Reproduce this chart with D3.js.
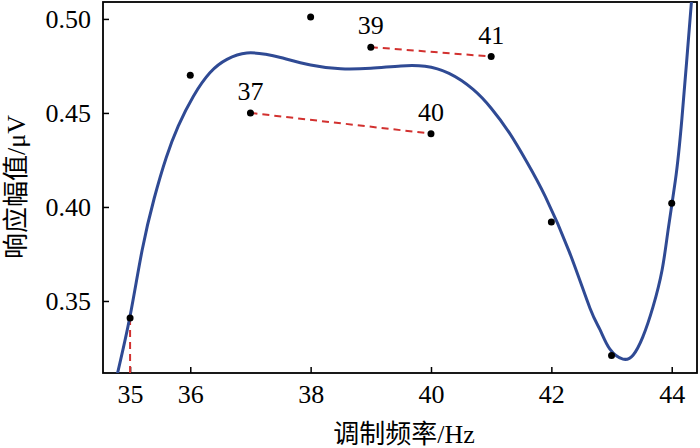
<!DOCTYPE html>
<html>
<head>
<meta charset="utf-8">
<script src="https://cdn.jsdelivr.net/npm/d3@7"></script>
<style>
  body { margin: 0; background: #fff; }
  svg text { font-family: "Liberation Serif", "Times New Roman", "Noto Sans CJK SC", serif !important; }
</style>
</head>
<body>
<svg id="chart" width="700" height="448"></svg>
<script>
// measured points
let freq = [35, 36, 37, 38, 39, 40, 41, 42, 43, 44]
let amp = [0.341, 0.470, 0.450, 0.501, 0.485, 0.439, 0.480, 0.392, 0.321, 0.402]

// fitted curve
let fitX = [34.78, 35.0, 35.2, 35.4, 35.6, 35.8, 36.05, 36.33, 36.61, 36.94, 37.25, 37.5, 38.0, 38.5, 39.0, 39.5, 39.9, 40.3, 40.7, 41.0, 41.3, 41.6, 41.9, 42.3, 42.64, 42.81, 42.97, 43.19, 43.36, 43.52, 43.69, 43.84, 43.94, 44.06, 44.17, 44.33, 44.38]
let fitY = [0.310, 0.342, 0.377, 0.4045, 0.4262, 0.443, 0.4588, 0.4715, 0.4785, 0.4819, 0.4812, 0.4795, 0.4755, 0.4735, 0.4738, 0.475, 0.4748, 0.471, 0.4625, 0.4525, 0.4395, 0.4235, 0.4055, 0.376, 0.3463, 0.3346, 0.3245, 0.3191, 0.3213, 0.3309, 0.347, 0.3665, 0.3878, 0.414, 0.4473, 0.510, 0.53]

// dashed connectors (pairs of indexes into freq)
let pairs = [[2, 5], [4, 6]]
let labelled = [37, 39, 40, 41]

let xTicks = [35, 36, 38, 40, 42, 44]
let yTicks = [0.35, 0.40, 0.45, 0.50]

let m = {left: 103, top: 2, right: 3, bottom: 75}
let w = 700 - m.left - m.right
let h = 448 - m.top - m.bottom

let svg = d3.select('#chart')
let g = svg.append('g').attr('transform', `translate(${m.left}, ${m.top})`)

let x = d3.scaleLinear().domain([34.55, 44.42]).range([0, w])
let y = d3.scaleLinear().domain([0.3117, 0.509]).range([h, 0])

g.append('clipPath').attr('id', 'clip')
  .append('rect').attr('width', w).attr('height', h)

// axes, ticks pointing inward
let xAxis = g.append('g')
  .attr('transform', `translate(0, ${h})`)
  .call(d3.axisBottom(x).tickValues(xTicks).tickSizeInner(-6).tickSizeOuter(0).tickPadding(30))
let yAxis = g.append('g')
  .call(d3.axisLeft(y).tickValues(yTicks).tickFormat(d3.format('.2f')).tickSizeInner(-6).tickSizeOuter(0).tickPadding(12))
xAxis.select('.domain').remove()
yAxis.select('.domain').remove()
xAxis.attr('font-family', null)
yAxis.attr('font-family', null)
g.selectAll('.tick line').attr('stroke', '#000').attr('stroke-width', 1.5)
g.selectAll('.tick text').attr('fill', '#000').style('font-size', '26px')
yAxis.selectAll('.tick text').attr('dy', '0.33em')
xAxis.selectAll('.tick text').attr('dy', '0em')

// frame
g.append('rect')
  .attr('width', w).attr('height', h)
  .attr('fill', 'none').attr('stroke', '#000').attr('stroke-width', 1.8)

let plot = g.append('g').attr('clip-path', 'url(#clip)')

// red dashed lines
plot.selectAll('.pair')
  .data(pairs)
  .enter()
    .append('line')
    .attr('x1', d => x(freq[d[0]]))
    .attr('y1', d => y(amp[d[0]]))
    .attr('x2', d => x(freq[d[1]]))
    .attr('y2', d => y(amp[d[1]]))
    .attr('stroke', '#d2312f').attr('stroke-width', 2).attr('stroke-dasharray', '7,5')
plot.append('line')
  .attr('x1', x(freq[0])).attr('x2', x(freq[0]))
  .attr('y1', y(amp[0])).attr('y2', h)
  .attr('stroke', '#d2312f').attr('stroke-width', 2).attr('stroke-dasharray', '7,5')

// fitted curve
let line = d3.line()
  .x(d => x(d[0]))
  .y(d => y(d[1]))
  .curve(d3.curveNatural)
plot.append('path')
  .datum(d3.zip(fitX, fitY))
  .attr('d', line)
  .attr('fill', 'none').attr('stroke', '#2f4a94').attr('stroke-width', 3)

// points
plot.selectAll('circle')
  .data(d3.zip(freq, amp))
  .enter()
    .append('circle')
    .attr('cx', d => x(d[0]))
    .attr('cy', d => y(d[1]))
    .attr('r', 3.5)
    .attr('fill', '#000')

// number labels over some points
g.selectAll('.lab')
  .data(d3.zip(freq, amp).filter(d => labelled.includes(d[0])))
  .enter()
    .append('text')
    .attr('x', d => x(d[0]))
    .attr('y', d => y(d[1]) - 13)
    .attr('text-anchor', 'middle')
    .style('font-size', '26px')
    .text(d => d[0])

// axis titles
svg.append('text')
  .attr('x', 404).attr('y', 443)
  .attr('text-anchor', 'middle')
  .style('font-size', '26px')
  .text('调制频率/Hz')
svg.append('text')
  .attr('transform', 'translate(25, 187) rotate(-90)')
  .attr('text-anchor', 'middle')
  .style('font-size', '26px')
  .text('响应幅值/μV')
</script>
</body>
</html>
